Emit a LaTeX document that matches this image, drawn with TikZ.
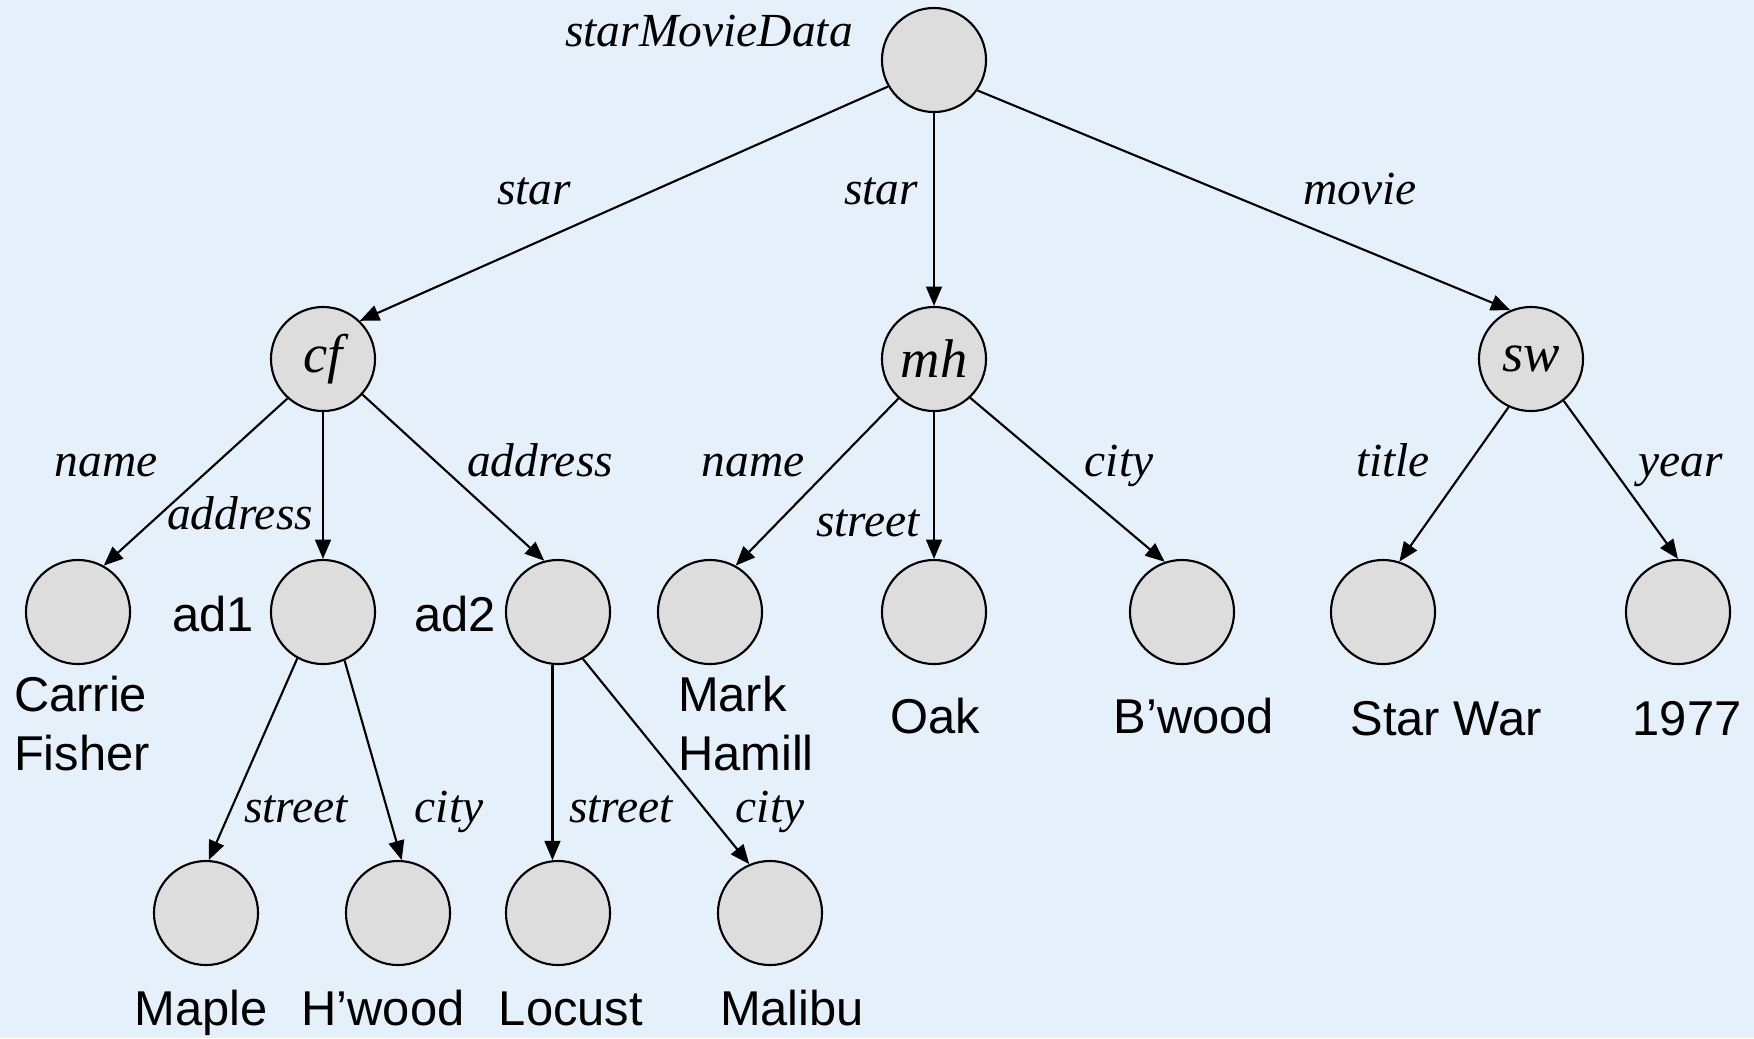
\documentclass[tikz,border=0pt]{standalone}
\usepackage{fontspec}
\setmainfont{Liberation Serif}
\setsansfont{Liberation Sans}
\usetikzlibrary{arrows.meta}
\definecolor{bgblue}{RGB}{230,240,250}
\definecolor{vgray}{RGB}{221,221,221}

\begin{document}
\begin{tikzpicture}[x = 0.01cm, y = -0.01cm, line width = 0.6pt,
                        vertex/.style = {circle, draw, fill = vgray, minimum size = 1.04cm, inner sep = 0pt,
                                         font = \fontsize{15.5}{18}\selectfont\itshape},
                        tag/.style = {anchor = base, inner sep = 0pt, font = \fontsize{13.5}{16}\selectfont\itshape},
                        val/.style = {anchor = base, inner sep = 0pt, font = \fontsize{13.9}{16.5}\selectfont\sffamily},
                        arc/.style = {-{Triangle[length = 5.5pt, width = 4.5pt]}}]
      \fill [bgblue] (0, 0) rectangle (1754, 1038);

      \node [vertex] (data) at (934, 60){};

      \node [vertex] (cf) at (323, 359){cf};
      \node [vertex] (mh) at (934, 359){mh};
      \node [vertex] (sw) at (1531, 359){sw};

      \node [vertex] (cfname) at (78, 612){};
      \node [vertex] (ad1) at (323, 612){};
      \node [vertex] (ad2) at (558, 612){};
      \node [vertex] (mhname) at (710, 612){};
      \node [vertex] (mhstreet) at (934, 612){};
      \node [vertex] (mhcity) at (1182, 612){};
      \node [vertex] (swtitle) at (1383, 612){};
      \node [vertex] (swyear) at (1678, 612){};

      \node [vertex] (st1) at (206, 913){};
      \node [vertex] (ct1) at (398, 913){};
      \node [vertex] (st2) at (558, 913){};
      \node [vertex] (ct2) at (770, 913){};

      \draw [arc] (data.210) -- (cf.46);
      \draw [arc] (data) -- (mh);
      \draw [arc] (data.-35) -- (sw.113);
      \draw [arc] (cf.228) -- (cfname.61);
      \draw [arc] (cf) -- (ad1);
      \draw [arc] (cf.-42) -- (ad2.105);
      \draw [arc] (ad1.241) -- (st1.87);
      \draw [arc] (ad1.294) -- (ct1.86);
      \draw [arc] (ad2.264) -- (st2.96);
      \draw [arc] (ad2.298) -- (ct2.113);
      \draw [arc] (mh.228) -- (mhname.61);
      \draw [arc] (mh) -- (mhstreet);
      \draw [arc] (mh.313) -- (mhcity.109);
      \draw [arc] (sw.245) -- (swtitle.72);
      \draw [arc] (sw.308) -- (swyear.90);

      % edge labels
      \node [tag] (lroot) at (709, 46) {starMovieData};
      \node [tag] (lstar1) at (534, 204) {star};
      \node [tag] (lstar2) at (881, 204) {star};
      \node [tag] (lmovie) at (1360, 204) {movie};
      \node [tag] (lname1) at (106, 476) {name};
      \node [tag] (laddr1) at (240, 529) {address};
      \node [tag] (laddr2) at (540, 476) {address};
      \node [tag] (lname2) at (753, 476) {name};
      \node [tag] (lstreet) at (868, 536) {street};
      \node [tag] (lcity) at (1119, 476) {city};
      \node [tag] (ltitle) at (1393, 476) {title};
      \node [tag] (lyear) at (1681, 476) {year};
      \node [tag] (lstreet1) at (296, 822) {street};
      \node [tag] (lcity1) at (449, 822) {city};
      \node [tag] (lstreet2) at (621, 822) {street};
      \node [tag] (lcity2) at (770, 822) {city};

      % values
      \node [val] (tad1) at (213, 631) {ad1};
      \node [val] (tad2) at (455, 631) {ad2};
      \node [val, anchor = base west, align = left] (tcarrie) at (13, 770) {Carrie\\Fisher};
      \node [val, anchor = base west, align = left] (tmark) at (677, 770) {Mark\\Hamill};
      \node [val] (toak) at (935, 733) {Oak};
      \node [val] (tbwood) at (1194, 733) {B’wood};
      \node [val] (tstarwar) at (1446, 735) {Star War};
      \node [val] (t1977) at (1687, 735) {1977};
      \node [val] (tmaple) at (201, 1025) {Maple};
      \node [val] (thwood) at (383, 1025) {H’wood};
      \node [val] (tlocust) at (571, 1025) {Locust};
      \node [val] (tmalibu) at (792, 1025) {Malibu};
\end{tikzpicture}
\end{document}
